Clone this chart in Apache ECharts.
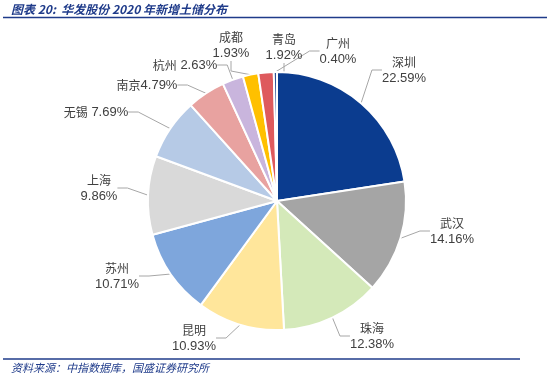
<!DOCTYPE html>
<html>
<head>
<meta charset="utf-8">
<script src="https://cdn.jsdelivr.net/npm/echarts@6/dist/echarts.min.js"></script>
<style>
  html, body { margin: 0; padding: 0; background: #fff; }
  #chart { width: 550px; height: 376px; }
</style>
</head>
<body>
<div id="chart"></div>
<script>
// city names and share of new land bank (%), clockwise from 12 o'clock
const cities = ['深圳', '武汉', '珠海', '昆明', '苏州', '上海', '无锡', '南京', '杭州', '成都', '青岛', '广州'];
const shares = [22.59, 14.16, 12.38, 10.93, 10.71, 9.86, 7.69, 4.79, 2.63, 1.93, 1.92, 0.40];
const sliceColors = ['#0B3C8F', '#A5A5A5', '#D4E9B9', '#FFE69B', '#7EA6DC', '#D9D9D9',
  '#B6CAE6', '#E8A2A0', '#C9B5DD', '#FFC000', '#DE5A5D', '#2E5597'];
// single-line labels (name and value on one row)
const oneLine = { '无锡': ' ', '南京': '', '杭州': ' ' };
// where each label block is centred
const labelPos = {
  '深圳': [404, 70], '武汉': [452, 231], '珠海': [372, 336], '昆明': [194, 338],
  '苏州': [117, 276], '上海': [99, 188], '无锡': [96, 112], '南京': [147, 85],
  '杭州': [185, 65], '成都': [231, 45], '青岛': [284, 47], '广州': [338, 51]
};

const chart = echarts.init(document.getElementById('chart'), null, { renderer: 'canvas' });

const data = cities.map((c, i) => ({
  name: c,
  value: shares[i],
  itemStyle: { color: sliceColors[i] }
}));

chart.setOption({
  animation: false,
  title: [{
    text: '图表 20:  华发股份 2020 年新增土储分布',
    left: 11, top: 2, padding: 0,
    textStyle: { color: '#1F3B8A', fontSize: 12, fontWeight: 'bold', fontStyle: 'italic',
      fontFamily: '"Noto Sans CJK SC", "DejaVu Serif", serif', lineHeight: 14 }
  }, {
    text: '资料来源：中指数据库，国盛证券研究所',
    left: 11, top: 361, padding: 0,
    textStyle: { color: '#1F3B8A', fontSize: 11, fontWeight: 'normal', fontStyle: 'italic',
      fontFamily: '"Noto Sans CJK SC", sans-serif', lineHeight: 14 }
  }],
  graphic: [
    { type: 'line', shape: { x1: 3, y1: 17.5, x2: 547, y2: 17.5 }, style: { stroke: '#1F3B8A', lineWidth: 1.5 } },
    { type: 'line', shape: { x1: 3, y1: 359, x2: 520, y2: 359 }, style: { stroke: '#1F3B8A', lineWidth: 1.5 } }
  ],
  series: [{
    type: 'pie',
    center: [277, 201],
    radius: 129,
    startAngle: 90,
    clockwise: true,
    data: data,
    itemStyle: { borderColor: '#fff', borderWidth: 2 },
    label: {
      show: true,
      position: 'outside',
      color: '#404040',
      lineHeight: 16,
      formatter: p => {
        const v = p.value.toFixed(2) + '%';
        if (p.name in oneLine) return '{n|' + p.name + '}{v|' + oneLine[p.name] + v + '}';
        return '{n|' + p.name + '}\n{v|' + v + '}';
      },
      rich: {
        n: { fontSize: 12, color: '#404040', fontFamily: '"Noto Sans CJK SC", serif', lineHeight: 16 },
        v: { fontSize: 13, color: '#404040', fontFamily: '"Liberation Sans", "Open Sans", sans-serif', lineHeight: 16 }
      }
    },
    labelLine: {
      show: true,
      length: 12,
      length2: 10,
      lineStyle: { color: '#A6A6A6', width: 1 }
    },
    labelLayout: function (params) {
      const name = cities[params.dataIndex];
      const p = labelPos[name];
      return { x: p[0], y: p[1], align: 'center', verticalAlign: 'middle' };
    }
  }]
});
</script>
</body>
</html>
